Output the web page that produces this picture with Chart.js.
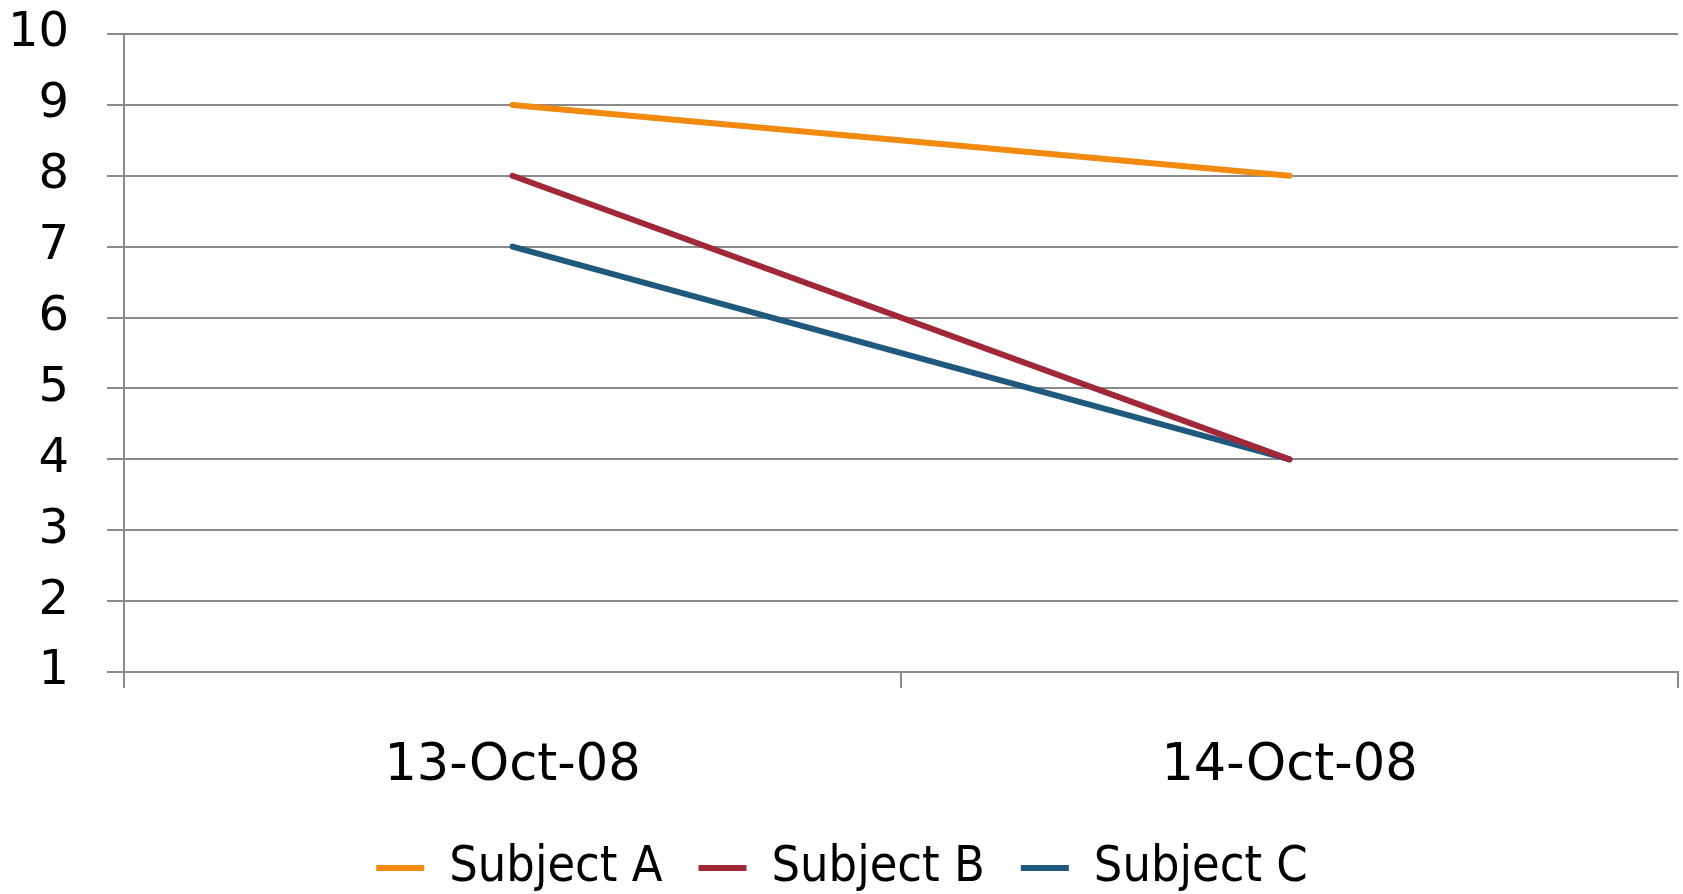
<!DOCTYPE html>
<html>
<head>
<meta charset="utf-8">
<script src="https://cdn.jsdelivr.net/npm/chart.js@4/dist/chart.umd.min.js"></script>
<style>
  html, body { margin: 0; padding: 0; background: #ffffff; }
  #wrap { width: 1683px; height: 894px; position: relative; }
</style>
</head>
<body>
<div id="wrap"><canvas id="c"></canvas></div>
<script>
const categories = ['13-Oct-08', '14-Oct-08'];
const seriesNames = ['Subject A', 'Subject B', 'Subject C'];
const subjectA = [9, 8];
const subjectB = [8, 4];
const subjectC = [7, 4];
const yMin = 1;
const yMax = 10;
const yStep = 1;

const colors = ['#F28A10', '#A12839', '#1F5A7E'];
const gridColor = '#8A8A8A';
const yFont = { family: '"DejaVu Sans", sans-serif', size: 48 };
const xFont = { family: '"DejaVu Sans", sans-serif', size: 51 };

const seriesValues = [subjectA, subjectB, subjectC];
const datasets = seriesNames.map((name, i) => ({
  label: name,
  data: seriesValues[i],
  borderColor: colors[i],
  backgroundColor: colors[i],
  borderWidth: 6,
  borderCapStyle: 'round',
  borderJoinStyle: 'round',
  pointRadius: 0,
  pointHoverRadius: 0,
  tension: 0,
  fill: false
}));

new Chart(document.getElementById('c'), {
  type: 'line',
  data: { labels: categories, datasets: datasets },
  options: {
    responsive: true,
    maintainAspectRatio: false,
    animation: false,
    events: [],
    layout: { padding: { left: 6, right: 5, top: 34, bottom: -9 } },
    plugins: {
      tooltip: { enabled: false },
      legend: {
        display: true,
        position: 'bottom',
        labels: {
          font: { family: '"DejaVu Sans Condensed", "DejaVu Sans", sans-serif', size: 50 },
          color: '#000000',
          boxWidth: 48,
          boxHeight: 6,
          padding: 36,
          generateLabels: (chart) => chart.data.datasets.map((ds, i) => ({
            text: ds.label,
            fillStyle: ds.borderColor,
            strokeStyle: ds.borderColor,
            lineWidth: 0,
            hidden: false,
            datasetIndex: i,
            fontColor: '#000000'
          }))
        }
      }
    },
    scales: {
      x: {
        type: 'category',
        offset: true,
        afterFit: (axis) => {
          axis.paddingLeft = 0;
          axis.paddingRight = 0;
          axis.height = 135;
        },
        grid: {
          offset: true,
          drawOnChartArea: false,
          drawTicks: true,
          tickLength: 16,
          color: gridColor,
          lineWidth: 2
        },
        border: { display: true, color: gridColor, width: 2 },
        ticks: {
          font: xFont,
          color: '#000000',
          padding: 48,
          maxRotation: 0,
          autoSkip: false
        }
      },
      y: {
        min: yMin,
        max: yMax,
        afterFit: (axis) => {
          axis.paddingTop = 0;
          axis.paddingBottom = 0;
          axis.width = 118;
        },
        grid: {
          color: gridColor,
          lineWidth: 2,
          drawTicks: true,
          tickLength: 17
        },
        border: { display: true, color: gridColor, width: 2 },
        ticks: {
          stepSize: yStep,
          font: yFont,
          color: '#000000',
          padding: 38
        }
      }
    }
  }
});
</script>
</body>
</html>
